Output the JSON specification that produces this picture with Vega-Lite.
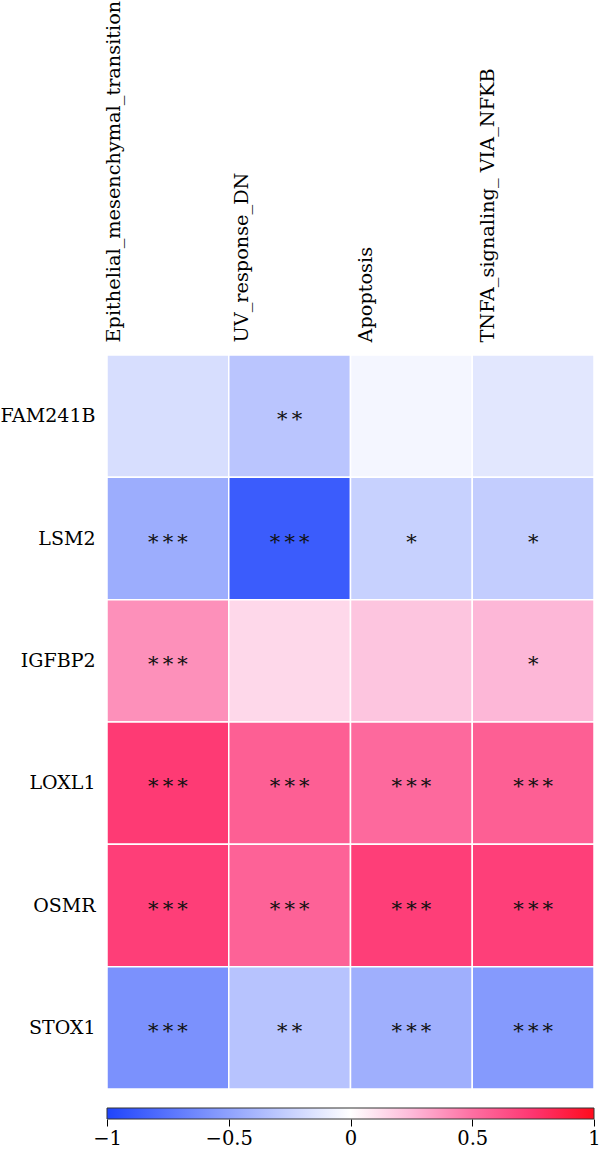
{
  "$schema": "https://vega.github.io/schema/vega-lite/v6.json",
  "background": "white",
  "padding": {"left": 0, "top": 0, "right": 0, "bottom": 0},
  "config": {
    "view": {"stroke": null},
    "font": "DejaVu Serif",
    "axis": {"labelFont": "DejaVu Serif", "labelColor": "#000000", "title": null, "grid": false}
  },
  "datasets": {
    "corr": [
      {"gene": "FAM241B", "set": "Epithelial_mesenchymal_transition", "r": -0.18, "sig": ""},
      {"gene": "FAM241B", "set": "UV_response_DN", "r": -0.31, "sig": "*\u2009*"},
      {"gene": "FAM241B", "set": "Apoptosis", "r": -0.05, "sig": ""},
      {"gene": "FAM241B", "set": "TNFA_signaling_ VIA_NFKB", "r": -0.13, "sig": ""},
      {"gene": "LSM2", "set": "Epithelial_mesenchymal_transition", "r": -0.44, "sig": "*\u2009*\u2009*"},
      {"gene": "LSM2", "set": "UV_response_DN", "r": -0.875, "sig": "*\u2009*\u2009*"},
      {"gene": "LSM2", "set": "Apoptosis", "r": -0.25, "sig": "*"},
      {"gene": "LSM2", "set": "TNFA_signaling_ VIA_NFKB", "r": -0.27, "sig": "*"},
      {"gene": "IGFBP2", "set": "Epithelial_mesenchymal_transition", "r": 0.39, "sig": "*\u2009*\u2009*"},
      {"gene": "IGFBP2", "set": "UV_response_DN", "r": 0.14, "sig": ""},
      {"gene": "IGFBP2", "set": "Apoptosis", "r": 0.21, "sig": ""},
      {"gene": "IGFBP2", "set": "TNFA_signaling_ VIA_NFKB", "r": 0.26, "sig": "*"},
      {"gene": "LOXL1", "set": "Epithelial_mesenchymal_transition", "r": 0.73, "sig": "*\u2009*\u2009*"},
      {"gene": "LOXL1", "set": "UV_response_DN", "r": 0.57, "sig": "*\u2009*\u2009*"},
      {"gene": "LOXL1", "set": "Apoptosis", "r": 0.525, "sig": "*\u2009*\u2009*"},
      {"gene": "LOXL1", "set": "TNFA_signaling_ VIA_NFKB", "r": 0.57, "sig": "*\u2009*\u2009*"},
      {"gene": "OSMR", "set": "Epithelial_mesenchymal_transition", "r": 0.71, "sig": "*\u2009*\u2009*"},
      {"gene": "OSMR", "set": "UV_response_DN", "r": 0.555, "sig": "*\u2009*\u2009*"},
      {"gene": "OSMR", "set": "Apoptosis", "r": 0.71, "sig": "*\u2009*\u2009*"},
      {"gene": "OSMR", "set": "TNFA_signaling_ VIA_NFKB", "r": 0.705, "sig": "*\u2009*\u2009*"},
      {"gene": "STOX1", "set": "Epithelial_mesenchymal_transition", "r": -0.59, "sig": "*\u2009*\u2009*"},
      {"gene": "STOX1", "set": "UV_response_DN", "r": -0.32, "sig": "*\u2009*"},
      {"gene": "STOX1", "set": "Apoptosis", "r": -0.43, "sig": "*\u2009*\u2009*"},
      {"gene": "STOX1", "set": "TNFA_signaling_ VIA_NFKB", "r": -0.545, "sig": "*\u2009*\u2009*"}
    ],
    "range": [{"lo": -1, "hi": 1}]
  },
  "spacing": 19,
  "bounds": "flush",
  "vconcat": [
    {
      "width": 487,
      "height": 734,
      "data": {"name": "corr"},
      "encoding": {
        "x": {
          "field": "set",
          "type": "nominal",
          "sort": ["Epithelial_mesenchymal_transition", "UV_response_DN", "Apoptosis", "TNFA_signaling_ VIA_NFKB"],
          "scale": {"paddingInner": 0, "paddingOuter": 0},
          "axis": {
            "orient": "top",
            "labelAngle": -90,
            "labelAlign": "left",
            "labelBaseline": "alphabetic",
            "labelOffset": {
              "condition": [
                {"test": "datum.value === 'Epithelial_mesenchymal_transition'", "value": -48},
                {"test": "datum.value === 'UV_response_DN'", "value": -42}
              ],
              "value": -39
            },
            "labelFontSize": 19.3,
            "labelPadding": 13,
            "labelLimit": 0,
            "ticks": false,
            "domain": false
          }
        },
        "y": {
          "field": "gene",
          "type": "nominal",
          "sort": ["FAM241B", "LSM2", "IGFBP2", "LOXL1", "OSMR", "STOX1"],
          "scale": {"paddingInner": 0, "paddingOuter": 0},
          "axis": {
            "labelFontSize": 19,
            "labelPadding": 12,
            "ticks": false,
            "domain": false,
            "labelLimit": 0
          }
        }
      },
      "layer": [
        {
          "mark": {"type": "rect", "stroke": "white", "strokeWidth": 1.5},
          "encoding": {
            "color": {
              "field": "r",
              "type": "quantitative",
              "scale": {
                "domain": [-1, -0.5, 0, 0.25, 0.5, 0.75, 1],
                "range": ["#1f44fc", "#8fa2fd", "#ffffff", "#fdbad9", "#fd6fa2", "#fe3570", "#ff0b1c"],
                "interpolate": "rgb"
              },
              "legend": null
            }
          }
        },
        {
          "mark": {"type": "text", "font": "DejaVu Serif", "fontSize": 21, "color": "#111111", "baseline": "middle", "dy": 4},
          "encoding": {"text": {"field": "sig"}}
        }
      ]
    },
    {
      "width": 487,
      "height": 11,
      "data": {"name": "range"},
      "mark": {
        "type": "rect",
        "stroke": "#333333",
        "strokeWidth": 1,
        "color": {
          "gradient": "linear",
          "x1": 0, "x2": 1, "y1": 0, "y2": 0,
          "stops": [
            {"offset": 0, "color": "#1f44fc"},
            {"offset": 0.25, "color": "#8fa2fd"},
            {"offset": 0.5, "color": "#ffffff"},
            {"offset": 0.625, "color": "#fdbad9"},
            {"offset": 0.75, "color": "#fd6fa2"},
            {"offset": 0.875, "color": "#fe3570"},
            {"offset": 1, "color": "#ff0b1c"}
          ]
        }
      },
      "encoding": {
        "x": {
          "field": "lo",
          "type": "quantitative",
          "scale": {"domain": [-1, 1], "nice": false, "zero": false},
          "axis": {
            "values": [-1, -0.5, 0, 0.5, 1],
            "format": "~g",
            "labelFontSize": 19.5,
            "labelPadding": 3,
            "tickSize": 7,
            "tickColor": "#000000",
            "tickWidth": 1,
            "domain": false,
            "labelFlush": false
          }
        },
        "x2": {"field": "hi"}
      }
    }
  ]
}
